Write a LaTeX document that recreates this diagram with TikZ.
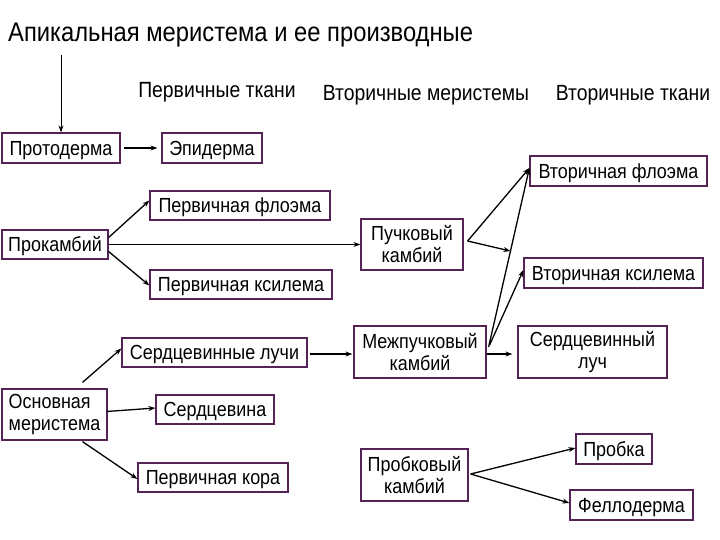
\documentclass[tikz,border=0pt]{standalone}
\usepackage{fontspec}
\setmainfont{Liberation Sans}[FakeStretch=0.88]
\usetikzlibrary{arrows.meta,calc}
\definecolor{boxc}{RGB}{85,35,85}
\begin{document}
\begin{tikzpicture}[x=1pt,y=-1pt,
  box/.style={draw=boxc,line width=1.2pt,fill=white,inner sep=0pt,font=\fontsize{20.4}{22}\selectfont},
  one/.style={box,text height=16pt,text depth=1.4pt},
  lbl/.style={inner sep=0pt,font=\fontsize{22}{24}\selectfont},
  arr/.style={line width=1.3pt,-{Stealth[length=7pt,width=5pt]}},
  thin/.style={line width=0.9pt,-{Stealth[length=7pt,width=5pt]}}]
\useasboundingbox[fill=white] (0,0) rectangle (720,540);
\node[inner sep=0pt,anchor=west,font=\fontsize{27}{30}\selectfont] (title) at (8,35) {Апикальная меристема и ее производные};
\node[lbl] (h1) at (217,92) {Первичные ткани};
\node[lbl] (h2) at (426,95) {Вторичные меристемы};
\node[lbl] (h3) at (633,95) {Вторичные ткани};

\node[one,minimum width=118,minimum height=30] (proto) at (61,148) {Протодерма};
\node[one,minimum width=100,minimum height=30] (epi) at (212,148) {Эпидерма};
\node[one,minimum width=180,minimum height=29] (pfl) at (240,205.5) {Первичная флоэма};
\node[one,minimum width=106,minimum height=29] (prok) at (55,244.5) {Прокамбий};
\node[one,minimum width=182,minimum height=29] (pxl) at (241,284.5) {Первичная ксилема};
\node[one,minimum width=185,minimum height=29] (sl) at (214.5,352.5) {Сердцевинные лучи};
\node[box,minimum width=105,minimum height=51,align=left] (osn) at (54.5,414.5) {Основная\\меристема};
\node[one,minimum width=118,minimum height=29] (sc) at (215,409.5) {Сердцевина};
\node[one,minimum width=150,minimum height=29] (pk) at (213,477.5) {Первичная кора};
\node[box,minimum width=102,minimum height=51,align=center] (puch) at (412,244.5) {Пучковый\\камбий};
\node[box,minimum width=132,minimum height=52,align=center] (mezh) at (420,352) {Межпучковый\\камбий};
\node[box,minimum width=107,minimum height=52,align=center] (probk) at (414.5,475) {Пробковый\\камбий};
\node[one,minimum width=177,minimum height=30] (vfl) at (618.5,171) {Вторичная флоэма};
\node[one,minimum width=179,minimum height=30] (vxl) at (613.5,273) {Вторичная ксилема};
\node[box,minimum width=149,minimum height=52,align=center] (sluch) at (592.5,352) {Сердцевинный\\луч};
\node[one,minimum width=76,minimum height=30] (probka) at (614,449) {Пробка};
\node[one,minimum width=123,minimum height=30] (fell) at (631.5,505) {Феллодерма};

% connectors
\draw[thin] ([yshift=-8pt]title.south -| proto.north) -- (proto.north);
\draw[arr,shorten <=3pt,shorten >=4pt] (proto.east) -- (epi.west);
\draw[arr] ([yshift=7pt]prok.east) -- ([yshift=5pt]pfl.west);
\draw[thin] (prok.east) -- (puch.west);
\draw[arr] ([yshift=-7pt]prok.east) -- ([yshift=-1pt]pxl.west);
\draw[arr] ([xshift=28pt,yshift=6pt]osn.north) -- ([yshift=4pt]sl.west);
\draw[arr] ([xshift=-1pt,yshift=3pt]osn.east) -- ([yshift=1.5pt]sc.west);
\draw[arr] ([xshift=28pt,yshift=-1pt]osn.south) -- ([yshift=-1.5pt]pk.west);
\draw[arr,shorten <=2pt,shorten >=1pt] ([yshift=-1.5pt]sl.east) -- ([yshift=-2pt]mezh.west);
\draw[arr,shorten >=5pt] ([yshift=-2pt]mezh.east) -- ([yshift=-2pt]sluch.west);

\coordinate (P) at ([xshift=4pt,yshift=3.5pt]puch.east);
\coordinate (M) at ([xshift=2pt,yshift=5pt]mezh.east);
\coordinate (M2) at ([xshift=3pt,yshift=7pt]mezh.east);
\coordinate (V) at (vfl.north west |- 0,168);
\coordinate (Q) at ($(M)!0.536!(V)$);
\draw[arr] (P) -- (V);
\draw[arr] (P) -- (Q);
\draw[arr] (M) -- (V);
\draw[arr] (M2) -- ([yshift=3pt]vxl.west);
\draw[arr] ([xshift=2pt,yshift=1pt]probk.east) -- ([yshift=1pt]probka.west);
\draw[arr] ([xshift=2pt,yshift=1pt]probk.east) -- ([yshift=2pt]fell.west);
\end{tikzpicture}
\end{document}
